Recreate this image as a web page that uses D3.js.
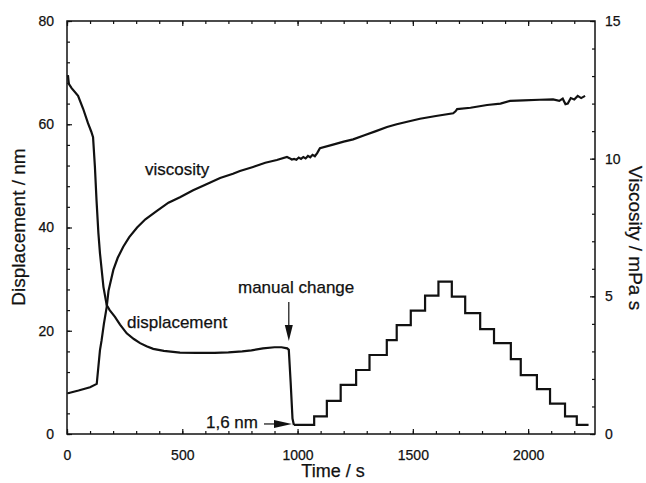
<!DOCTYPE html>
<html>
<head>
<meta charset="utf-8">
<script src="https://cdn.jsdelivr.net/npm/d3@7"></script>
<style>
  body { margin: 0; background: #fff; }
  text { font-family: "Liberation Sans", Arial, Helvetica, sans-serif; fill: #111; stroke: #111; stroke-width: 0.25; }
</style>
</head>
<body>
<div id="chart"></div>
<script>
    // displacement before the manual change (time s, nm)
    var dispTime = [4, 8, 20, 48, 70, 91, 105, 113, 121, 128, 136, 143, 158, 172, 185, 208, 230, 259, 290, 317, 345, 374, 420, 490, 560, 640, 700, 760, 800, 850, 900, 930, 955, 962, 970, 978, 984];
    var dispNm   = [69.5, 67.8, 67.0, 65.5, 63.0, 60.2, 58.6, 57.5, 51.8, 45.3, 39.0, 35.0, 28.5, 25.0, 24.0, 22.7, 21.2, 19.5, 18.4, 17.6, 17.0, 16.5, 16.1, 15.75, 15.7, 15.7, 15.8, 16.0, 16.2, 16.6, 16.8, 16.8, 16.6, 16.3, 10.0, 3.0, 1.75];

    // staircase after the change: start time of each step, level (nm)
    var stepTime  = [984, 1072, 1127, 1187, 1254, 1312, 1387, 1430, 1491, 1553, 1611, 1669, 1727, 1792, 1852, 1925, 1968, 2038, 2095, 2160, 2211, 2262];
    var stepLevel = [1.75, 3.4, 6.4, 9.5, 12.4, 15.3, 18.2, 21.1, 23.9, 26.8, 29.5, 26.6, 23.4, 20.3, 17.6, 14.5, 11.4, 8.7, 5.9, 3.4, 1.75, 1.75];

    // viscosity (time s, mPa s)
    var viscTime = [4, 50, 100, 129, 143, 150, 160, 172, 180, 201, 220, 244, 270, 304, 340, 390, 440, 490, 547, 600, 664, 720, 750, 807, 860, 910, 954, 965, 975, 985, 995, 1005, 1015, 1025, 1035, 1045, 1055, 1065, 1075, 1085, 1097, 1150, 1200, 1241, 1290, 1340, 1388, 1430, 1480, 1531, 1600, 1675, 1685, 1692, 1750, 1822, 1880, 1922, 1980, 2050, 2108, 2135, 2150, 2162, 2172, 2185, 2200, 2215, 2230, 2247];
    var viscMPa  = [1.48, 1.58, 1.7, 1.82, 3.05, 3.4, 4.0, 4.6, 5.2, 5.96, 6.4, 6.8, 7.15, 7.5, 7.8, 8.1, 8.4, 8.6, 8.85, 9.05, 9.3, 9.45, 9.55, 9.7, 9.85, 9.95, 10.06, 10.02, 9.97, 9.99, 9.96, 10.04, 9.99, 10.06, 10.01, 10.1, 10.05, 10.14, 10.09, 10.2, 10.38, 10.5, 10.62, 10.7, 10.85, 11.0, 11.15, 11.25, 11.35, 11.45, 11.55, 11.65, 11.72, 11.8, 11.85, 11.95, 12.0, 12.1, 12.12, 12.14, 12.15, 12.1, 12.18, 11.98, 12.0, 12.2, 12.15, 12.28, 12.2, 12.28];

    var timeTicks = [0, 500, 1000, 1500, 2000];
    var dispTicks = [0, 20, 40, 60, 80];
    var viscTicks = [0, 5, 10, 15];

    var W = 646, H = 483;
    var svg = d3.select("#chart").append("svg").attr("width", W).attr("height", H);

    var x = d3.scaleLinear().domain([0, 2290]).range([67, 595]);
    var yL = d3.scaleLinear().domain([0, 80]).range([434, 21]);
    var yR = d3.scaleLinear().domain([0, 15]).range([434, 21]);
    var plain = function(d) { return String(d); };

    function styleAxis(g) {
      g.select(".domain").remove();
      g.selectAll("line").attr("stroke", "#111").attr("stroke-width", 1.2);
      g.selectAll("text").style("font-size", "14px").style("fill", "#111")
        .style("font-family", "'Liberation Sans', Arial, sans-serif");
    }

    // minor ticks
    svg.append("g").attr("transform", "translate(0,434)")
      .call(d3.axisBottom(x).tickValues(d3.range(0, 2300, 100)).tickSize(-3).tickFormat(""))
      .call(styleAxis);
    svg.append("g").attr("transform", "translate(0,21)")
      .call(d3.axisTop(x).tickValues(d3.range(0, 2300, 100)).tickSize(-3).tickFormat(""))
      .call(styleAxis);
    svg.append("g").attr("transform", "translate(67,0)")
      .call(d3.axisLeft(yL).tickValues(d3.range(0, 81, 4)).tickSize(-3).tickFormat(""))
      .call(styleAxis);
    svg.append("g").attr("transform", "translate(595,0)")
      .call(d3.axisRight(yR).tickValues(d3.range(0, 16, 1)).tickSize(-3).tickFormat(""))
      .call(styleAxis);

    // major ticks + labels
    svg.append("g").attr("transform", "translate(0,434)")
      .call(d3.axisBottom(x).tickValues(timeTicks).tickSize(-5).tickPadding(16).tickFormat(plain))
      .call(styleAxis);
    svg.append("g").attr("transform", "translate(0,21)")
      .call(d3.axisTop(x).tickValues(timeTicks).tickSize(-5).tickFormat(""))
      .call(styleAxis);
    svg.append("g").attr("transform", "translate(67,0)")
      .call(d3.axisLeft(yL).tickValues(dispTicks).tickSize(-5).tickPadding(13).tickFormat(plain))
      .call(styleAxis);
    svg.append("g").attr("transform", "translate(595,0)")
      .call(d3.axisRight(yR).tickValues(viscTicks).tickSize(-5).tickPadding(10).tickFormat(plain))
      .call(styleAxis);

    // frame
    svg.append("rect").attr("x", 67).attr("y", 21).attr("width", 595 - 67).attr("height", 434 - 21)
      .attr("fill", "none").attr("stroke", "#111").attr("stroke-width", 1.5);

    // curves
    var dispLine = d3.line().x(function(d) { return x(d[0]); }).y(function(d) { return yL(d[1]); });
    svg.append("path")
      .datum(dispTime.map(function(t, i) { return [t, dispNm[i]]; }))
      .attr("d", dispLine).attr("fill", "none").attr("stroke", "#111").attr("stroke-width", 2.2);

    var stepLine = d3.line().curve(d3.curveStepAfter)
      .x(function(d) { return x(d[0]); }).y(function(d) { return yL(d[1]); });
    svg.append("path")
      .datum(stepTime.map(function(t, i) { return [t, stepLevel[i]]; }))
      .attr("d", stepLine).attr("fill", "none").attr("stroke", "#111").attr("stroke-width", 2.2);

    var viscLine = d3.line().x(function(d) { return x(d[0]); }).y(function(d) { return yR(d[1]); });
    svg.append("path")
      .datum(viscTime.map(function(t, i) { return [t, viscMPa[i]]; }))
      .attr("d", viscLine).attr("fill", "none").attr("stroke", "#111").attr("stroke-width", 2.2);

    // annotations
    svg.append("text").attr("x", 145).attr("y", 175).style("font-size", "17px").text("viscosity");
    svg.append("text").attr("x", 127).attr("y", 328).style("font-size", "17px").text("displacement");
    svg.append("text").attr("x", 238).attr("y", 293).style("font-size", "17px").text("manual change");
    svg.append("text").attr("x", 206).attr("y", 428).style("font-size", "17px").text("1,6 nm");

    // arrow down at manual change
    var ax = x(962);
    svg.append("line").attr("x1", ax).attr("x2", ax).attr("y1", 302).attr("y2", 326)
      .attr("stroke", "#111").attr("stroke-width", 1.2);
    svg.append("path").attr("d", "M" + (ax - 4) + ",325 L" + (ax + 4) + ",325 L" + ax + ",341 Z").attr("fill", "#111");

    // arrow right to 1,6 nm level
    var ay = yL(1.75) - 1;
    svg.append("line").attr("x1", 264).attr("x2", 276).attr("y1", ay).attr("y2", ay)
      .attr("stroke", "#111").attr("stroke-width", 1.2);
    svg.append("path").attr("d", "M274," + (ay - 4) + " L274," + (ay + 4) + " L" + (x(984) - 2) + "," + ay + " Z").attr("fill", "#111");

    // axis titles
    svg.append("text").attr("transform", "translate(25,227) rotate(-90)")
      .attr("text-anchor", "middle").style("font-size", "19px").text("Displacement / nm");
    svg.append("text").attr("transform", "translate(629,238) rotate(90)")
      .attr("text-anchor", "middle").style("font-size", "19px").text("Viscosity / mPa s");
    svg.append("text").attr("x", 333).attr("y", 477)
      .attr("text-anchor", "middle").style("font-size", "18px").text("Time / s");
</script>
</body>
</html>
